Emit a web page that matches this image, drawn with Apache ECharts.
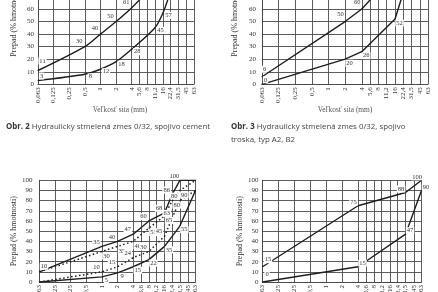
<!DOCTYPE html>
<html><head><meta charset="utf-8">
<script src="https://cdn.jsdelivr.net/npm/echarts@6/dist/echarts.min.js"></script>
<style>html,body{margin:0;padding:0;background:#fff}#c{width:438px;height:292px}</style>
</head><body><div id="c"></div>
<script>
const sieveSizes = [0.063,0.125,0.25,0.5,1,2,4,5.6,8,11.2,16,22.4,31.5,45,63];
const sieveLabels = ['0,063','0,125','0,25','0,5','1','2','4','5,6','8','11,2','16','22,4','31,5','45','63'];
const passTicks = [0,10,20,30,40,50,60,70,80,90,100];

// Obr. 2 (top left)
const fig2UpperSizes = [0.063,0.5,1,2,4,8,16,31.5];
const fig2UpperPass  = [11,30,40,50,61,74,88,100];
const fig2LowerSizes = [0.063,0.5,1,2,4,11.2,16,22.4,31.5,45];
const fig2LowerPass  = [3,8,12,18,28,45,57,74,90,100];
// Obr. 3 (top right)
const fig3UpperSizes = [0.063,2,4,5.6,8,16,31.5];
const fig3UpperPass  = [6,50,60,67,75,88,100];
const fig3LowerSizes = [0.063,2,4,16,31.5,45];
const fig3LowerPass  = [0,20,26,52,94,100];
// bottom left
const fig4UpperSizes = [0.063,1,2,4,8,16,22.4,31.5,63];
const fig4UpperPass  = [10,35,40,47,60,68,86,100,100];
const fig4MidUpSizes = [0.063,1,2,4,8,16,22.4,31.5,63];
const fig4MidUpPass  = [10,30,35,40,53,65,80,90,100];
const fig4MidLoSizes = [0.063,1,2,4,8,16,22.4,31.5,63];
const fig4MidLoPass  = [0,10,15,24,30,45,63,80,90];
const fig4LowerSizes = [0.063,1,2,4,8,16,31.5,63];
const fig4LowerPass  = [0,5,9,15,22,35,55,90];
// bottom right
const fig5UpperSizes = [0.063,4,31.5,63];
const fig5UpperPass  = [15,75,88,100];
const fig5LowerSizes = [0.063,4,31.5,63];
const fig5LowerPass  = [0,15,47,90];

const SERIF = 'Liberation Serif';
const GRID_C = '#4a4a4a';
const LINE_C = '#1e1e1e';

function sieveLabel(v){
  let best = 0, d = Infinity;
  sieveSizes.forEach((s,i)=>{const dd=Math.abs(Math.log(s)-Math.log(v)); if(dd<d){d=dd;best=i;}});
  return sieveLabels[best];
}

const grids = [
  {left:38, right:244, top:-41.2, bottom:207.7, outerBoundsMode:'none', containLabel:false},
  {left:262, right:10, top:-41.2, bottom:207.7, outerBoundsMode:'none', containLabel:false},
  {left:39.5, right:242.5, top:180.3, bottom:10, outerBoundsMode:'none', containLabel:false},
  {left:262.5, right:16.5, top:180.3, bottom:10, outerBoundsMode:'none', containLabel:false}
];
const yNameGap = [20, 23, 22, 17];
const yLabelMargin = [4, 6, 7, 4];
const xNames = ['Veľkosť sita (mm)','Veľkosť sita (mm)','',''];

const xAxes = grids.map((g,i)=>({
  type:'log', logBase:2, min:0.063, max:63, gridIndex:i,
  name:xNames[i], nameLocation:'middle', nameGap:14,
  nameTextStyle:{fontFamily:'Liberation Sans Narrow', fontSize:7.4, color:'#555', padding: i===0?[0,0,0,8]:0},
  axisLine:{show:true, lineStyle:{color:GRID_C, width:1}},
  axisTick:{show:false, customValues:sieveSizes},
  axisLabel:{customValues:sieveSizes, formatter:sieveLabel, rotate:90, margin:3,
    hideOverlap:false, showMinLabel:true, showMaxLabel:true,
    fontFamily:SERIF, fontSize:7, lineHeight:7, color:'#333'},
  splitLine:{show:true, lineStyle:{color:GRID_C, width:0.9}}
}));
const yAxes = grids.map((g,i)=>({
  type:'value', min:0, max:100, interval:10, gridIndex:i,
  name:'Prepad (% hmotnosti)', nameLocation:'middle', nameGap:yNameGap[i], nameRotate:90,
  nameTextStyle:{fontFamily:SERIF, fontSize:8, color:'#333'},
  axisLine:{show:true, lineStyle:{color:GRID_C, width:1}},
  axisTick:{show:false},
  axisLabel:{margin:yLabelMargin[i], fontFamily:SERIF, fontSize:7, color:'#333', hideOverlap:false},
  splitLine:{show:true, lineStyle:{color:GRID_C, width:0.9}}
}));

function makeSeries(sizes, pass, gi, pos, firstPos, opts){
  opts = opts || {};
  const hide = opts.hide || [];
  return {
    type:'line', xAxisIndex:gi, yAxisIndex:gi,
    smooth: opts.smooth || false,
    symbol:'circle', symbolSize:1,
    itemStyle:{color:LINE_C},
    lineStyle:{color:LINE_C, width: opts.width || 1.4, type: opts.dash || 'solid'},
    label:{show:true, position:pos, align:'center', verticalAlign:'middle',
      fontFamily:SERIF, fontSize:6.5, color:'#333', backgroundColor:'#fff', padding:[0,1],
      formatter: p => String(p.value[1])},
    data: sizes.map((s,k)=>{
      const item = {value:[s, pass[k]]};
      if(k===0 && firstPos) item.label = {position:firstPos};
      if(hide.indexOf(k) >= 0) item.label = {show:false};
      return item;
    })
  };
}

const series = [
  makeSeries(fig2UpperSizes, fig2UpperPass, 0, [-5,-5], [5,-9], {smooth:0.3}),
  makeSeries(fig2LowerSizes, fig2LowerPass, 0, [6,3], [4,-4], {smooth:0.3}),
  makeSeries(fig3UpperSizes, fig3UpperPass, 1, [-4,-6.5], [3,-7]),
  makeSeries(fig3LowerSizes, fig3LowerPass, 1, [5,4.5], [4,-4]),
  makeSeries(fig4UpperSizes, fig4UpperPass, 2, [-5,-4], [5,-5], {hide:[8]}),
  makeSeries(fig4MidUpSizes, fig4MidUpPass, 2, [5,5], null, {dash:[1.5,2.5], width:1.5, hide:[0,8]}),
  makeSeries(fig4MidLoSizes, fig4MidLoPass, 2, [-5,-4], null, {dash:[1.5,2.5], width:1.5, hide:[0,8]}),
  makeSeries(fig4LowerSizes, fig4LowerPass, 2, [5,4], null, {hide:[0,7]}),
  makeSeries(fig5UpperSizes, fig5UpperPass, 3, [-4,-3], [6,-6.5]),
  makeSeries(fig5LowerSizes, fig5LowerPass, 3, [5,-3], [5,-7])
];

const capStyle = {fontFamily:'Open Sans', fontSize:7.9, fill:'#444'};
const rich = {b:{fontFamily:'Open Sans', fontSize:7.9, fontWeight:'bold', fill:'#333'}};

const chart = echarts.init(document.getElementById('c'), null, {renderer:'canvas'});
chart.setOption({
  animation:false,
  backgroundColor:'#fff',
  grid:grids,
  xAxis:xAxes,
  yAxis:yAxes,
  series:series,
  graphic:[
    {type:'text', left:6, top:123, style:Object.assign({text:'{b|Obr. 2} Hydraulicky stmelená zmes 0/32, spojivo cement', rich}, capStyle)},
    {type:'text', left:231, top:123, style:Object.assign({text:'{b|Obr. 3} Hydraulicky stmelená zmes 0/32, spojivo', rich}, capStyle)},
    {type:'text', left:231, top:136, style:Object.assign({text:'troska, typ A2, B2'}, capStyle)}
  ]
});
</script></body></html>
